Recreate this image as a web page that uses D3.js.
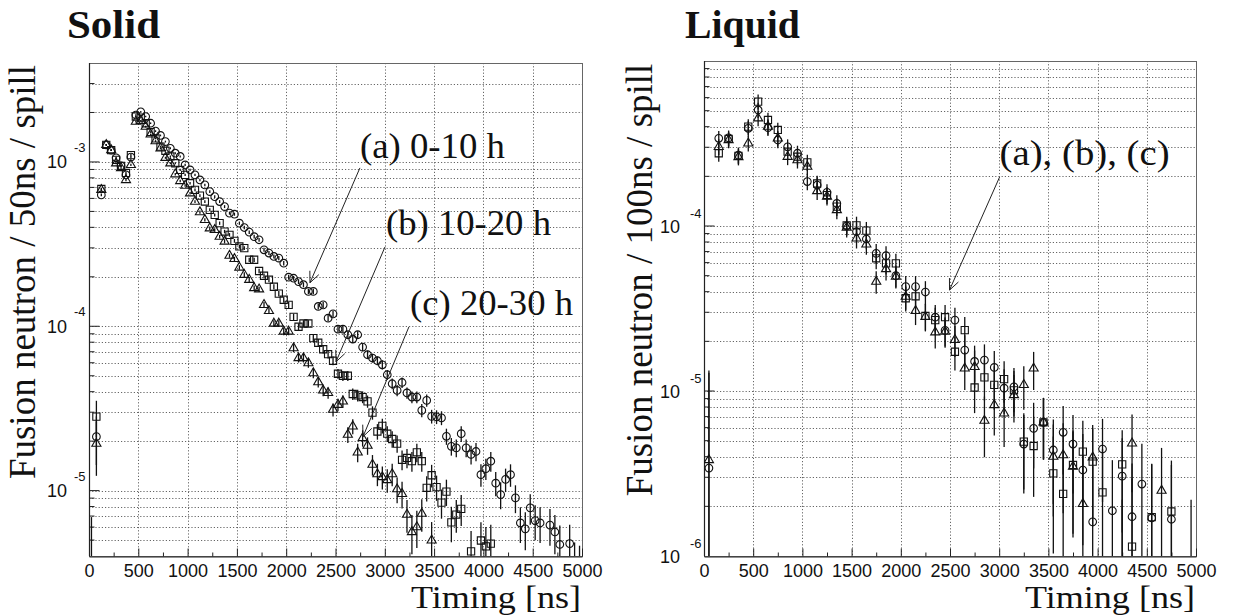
<!DOCTYPE html>
<html>
<head>
<meta charset="utf-8">
<script src="https://cdn.jsdelivr.net/npm/d3@7"></script>
<style>
    body { margin: 0; background: #fff; }
    svg { display: block; }
    .num { font-family: "Liberation Sans", Arial, Helvetica, sans-serif; fill: #111; }
    .serif { font-family: "Liberation Serif", "Times New Roman", serif; fill: #111; }
</style>
</head>
<body>
<svg id="chart" width="1235" height="615"></svg>
<script>
// ---- data: [timing ns, neutrons per spill] ----
// Solid target, 50 ns bins. (a) 0-10 h circles, (b) 10-20 h squares, (c) 20-30 h triangles
const solidCircle = [
    [25, 1.0e-6], [75, 2.13e-5], [125, 6.3e-4], [175, 1.27e-3], [225, 1.18e-3], [275, 1.06e-3], [325, 9.46e-4], [375, 8.34e-4], [425, 1.07e-3], [475, 1.93e-3],
    [525, 2.02e-3], [575, 1.89e-3], [625, 1.72e-3], [675, 1.54e-3], [725, 1.45e-3], [775, 1.33e-3], [825, 1.21e-3], [875, 1.13e-3], [925, 1.08e-3], [975, 9.59e-4],
    [1025, 8.94e-4], [1075, 8.34e-4], [1125, 7.77e-4], [1175, 7.25e-4], [1225, 6.60e-4], [1275, 6.15e-4], [1325, 5.74e-4], [1375, 5.35e-4], [1425, 4.88e-4], [1475, 4.81e-4],
    [1525, 4.24e-4], [1575, 3.99e-4], [1625, 3.74e-4], [1675, 3.51e-4], [1725, 3.36e-4], [1775, 2.92e-4], [1825, 2.79e-4], [1875, 2.66e-4], [1925, 2.60e-4], [1975, 2.42e-4],
    [2025, 1.99e-4], [2075, 1.96e-4], [2125, 1.87e-4], [2175, 1.79e-4], [2225, 1.63e-4], [2275, 1.63e-4], [2325, 1.32e-4], [2375, 1.35e-4], [2425, 1.12e-4], [2475, 1.19e-4],
    [2525, 9.6e-5], [2575, 9.6e-5], [2625, 8.88e-5], [2675, 8.36e-5], [2725, 8.88e-5], [2775, 7.47e-5], [2825, 6.71e-5], [2875, 6.41e-5], [2925, 6.17e-5], [2975, 5.83e-5],
    [3025, 5.07e-5], [3075, 4.47e-5], [3125, 4.07e-5], [3175, 4.55e-5], [3225, 3.93e-5], [3275, 3.71e-5], [3325, 3.71e-5], [3375, 3.08e-5], [3425, 3.54e-5], [3475, 2.83e-5],
    [3525, 2.81e-5], [3575, 2.77e-5], [3625, 2.14e-5], [3675, 1.86e-5], [3725, 1.82e-5], [3775, 2.22e-5], [3825, 1.82e-5], [3875, 1.66e-5], [3925, 1.73e-5], [3975, 1.25e-5],
    [4025, 1.36e-5], [4075, 1.51e-5], [4125, 1.11e-5], [4175, 9.46e-6], [4225, 1.17e-5], [4275, 1.25e-5], [4325, 9.03e-6], [4375, 6.36e-6], [4425, 5.85e-6], [4475, 7.85e-6],
    [4525, 6.57e-6], [4575, 6.36e-6], [4675, 6.17e-6], [4725, 5.6e-6], [4775, 4.7e-6], [4875, 4.76e-6], [4925, 3.5e-6], [4975, 3.3e-6]
];
const solidSquare = [
    [75, 2.82e-5], [125, 6.85e-4], [175, 1.27e-3], [225, 1.18e-3], [275, 1.03e-3], [325, 9.46e-4], [375, 8.57e-4], [425, 1.10e-3], [475, 1.89e-3],
    [525, 1.86e-3], [575, 1.72e-3], [625, 1.52e-3], [675, 1.39e-3], [725, 1.24e-3], [775, 1.17e-3], [825, 1.08e-3], [875, 9.82e-4], [925, 8.94e-4], [975, 8.34e-4],
    [1025, 7.42e-4], [1075, 6.76e-4], [1125, 6.24e-4], [1175, 5.74e-4], [1225, 5.11e-4], [1275, 4.76e-4], [1325, 4.24e-4], [1375, 3.77e-4], [1425, 3.60e-4], [1475, 3.31e-4],
    [1525, 3.06e-4], [1575, 2.99e-4], [1625, 2.54e-4], [1675, 2.54e-4], [1725, 2.17e-4], [1775, 2.03e-4], [1825, 1.92e-4], [1875, 1.74e-4], [1925, 1.58e-4], [1975, 1.45e-4],
    [2025, 1.35e-4], [2075, 1.14e-4], [2125, 9.93e-5], [2175, 1.04e-4], [2225, 1.04e-4], [2275, 8.47e-5], [2325, 7.94e-5], [2375, 7.25e-5], [2425, 6.76e-5], [2475, 6.17e-5],
    [2525, 5.14e-5], [2575, 5.0e-5], [2625, 5.0e-5], [2675, 3.87e-5], [2725, 3.80e-5], [2775, 3.71e-5], [2825, 3.49e-5], [2875, 2.98e-5], [2925, 2.29e-5], [2975, 2.48e-5],
    [3025, 2.22e-5], [3075, 2.06e-5], [3125, 1.93e-5], [3175, 1.54e-5], [3225, 1.58e-5], [3275, 1.51e-5], [3325, 1.71e-5], [3375, 1.51e-5], [3425, 1.04e-5], [3475, 1.24e-5],
    [3525, 1.05e-5], [3575, 8.45e-6], [3625, 9.86e-6], [3675, 6.41e-6], [3725, 7.15e-6], [3775, 7.74e-6], [3875, 4.27e-6], [3975, 4.97e-6], [4025, 4.58e-6], [4075, 4.76e-6]
];
const solidTriangle = [
    [75, 1.93e-5], [125, 6.76e-4], [175, 1.27e-3], [225, 1.18e-3], [275, 9.82e-4], [325, 9.19e-4], [375, 7.77e-4], [425, 9.59e-4], [475, 1.76e-3],
    [525, 1.78e-3], [575, 1.64e-3], [625, 1.47e-3], [675, 1.34e-3], [725, 1.21e-3], [775, 1.06e-3], [825, 9.82e-4], [875, 8.42e-4], [925, 7.66e-4], [975, 7.18e-4],
    [1025, 6.45e-4], [1075, 5.74e-4], [1125, 4.95e-4], [1175, 4.44e-4], [1225, 3.95e-4], [1275, 3.86e-4], [1325, 3.51e-4], [1375, 3.28e-4], [1425, 2.69e-4], [1475, 2.57e-4],
    [1525, 2.28e-4], [1575, 2.06e-4], [1625, 1.92e-4], [1675, 1.71e-4], [1725, 1.68e-4], [1775, 1.35e-4], [1825, 1.24e-4], [1875, 1.04e-4], [1925, 1.04e-4], [1975, 9.3e-5],
    [2025, 9.3e-5], [2075, 7.37e-5], [2125, 6.41e-5], [2175, 6.41e-5], [2225, 5.97e-5], [2275, 5.19e-5], [2325, 4.57e-5], [2375, 4.07e-5], [2425, 3.93e-5], [2475, 3.11e-5],
    [2525, 3.33e-5], [2575, 3.49e-5], [2625, 2.19e-5], [2675, 2.46e-5], [2725, 1.71e-5], [2775, 2.09e-5], [2825, 1.88e-5], [2875, 1.44e-5], [2925, 1.26e-5], [2975, 1.21e-5],
    [3025, 1.16e-5], [3075, 1.26e-5], [3125, 1.02e-5], [3175, 9.56e-6], [3225, 7.15e-6], [3275, 5.6e-6], [3325, 6.0e-6], [3375, 7.25e-6], [3475, 4.98e-6]
];

// Liquid target, 100 ns bins
const liquidCircle = [
    [50, 3.41e-6], [150, 3.40e-4], [250, 3.42e-4], [350, 2.69e-4], [450, 3.91e-4], [550, 5.05e-4], [650, 3.94e-4], [750, 3.32e-4], [850, 3.02e-4], [950, 2.76e-4],
    [1050, 1.86e-4], [1150, 1.77e-4], [1250, 1.60e-4], [1350, 1.37e-4], [1450, 1.0e-4], [1550, 9.24e-5], [1650, 8.34e-5], [1750, 6.83e-5], [1850, 6.61e-5], [1950, 5.0e-5],
    [2050, 4.29e-5], [2150, 4.29e-5], [2250, 3.98e-5], [2350, 2.80e-5], [2450, 2.33e-5], [2550, 2.69e-5], [2650, 1.77e-5], [2750, 1.51e-5], [2850, 1.54e-5], [2950, 1.39e-5],
    [3050, 1.04e-5], [3150, 1.06e-5], [3250, 4.77e-6], [3350, 5.94e-6], [3450, 6.46e-6], [3550, 4.39e-6], [3650, 5.62e-6], [3750, 4.77e-6], [3850, 3.32e-6], [3950, 1.61e-6],
    [4050, 4.45e-6], [4150, 1.88e-6], [4250, 3.05e-6], [4350, 1.73e-6], [4450, 2.73e-6], [4550, 1.70e-6], [4750, 1.67e-6], [4950, 5e-7]
];
const liquidSquare = [
    [150, 2.76e-4], [250, 3.37e-4], [350, 2.66e-4], [450, 4.0e-4], [550, 5.67e-4], [650, 4.39e-4], [750, 3.82e-4], [850, 2.82e-4], [950, 2.63e-4],
    [1050, 2.43e-4], [1150, 1.81e-4], [1250, 1.54e-4], [1350, 1.31e-4], [1450, 1.01e-4], [1550, 1.01e-4], [1650, 9.37e-5], [1750, 6.37e-5], [1850, 5.94e-5], [1950, 5.94e-5],
    [2050, 3.65e-5], [2150, 3.75e-5], [2250, 2.85e-5], [2350, 2.69e-5], [2450, 2.80e-5], [2550, 1.73e-5], [2650, 2.34e-5], [2750, 1.05e-5], [2850, 1.21e-5], [2950, 1.09e-5],
    [3050, 1.18e-5], [3150, 1.01e-5], [3250, 4.93e-6], [3350, 4.64e-6], [3450, 6.46e-6], [3550, 3.17e-6], [3650, 2.38e-6], [3750, 3.56e-6], [3850, 4.29e-6], [3950, 3.73e-6],
    [4050, 2.43e-6], [4250, 3.59e-6], [4350, 1.14e-6], [4550, 1.72e-6], [4750, 1.86e-6]
];
const liquidTriangle = [
    [50, 3.82e-6], [150, 3.02e-4], [250, 3.32e-4], [350, 2.62e-4], [450, 3.17e-4], [550, 4.5e-4], [650, 4.0e-4], [750, 3.40e-4], [850, 2.63e-4], [950, 2.51e-4],
    [1050, 2.29e-4], [1150, 1.63e-4], [1250, 1.51e-4], [1350, 1.25e-4], [1450, 9.77e-5], [1550, 8.42e-5], [1650, 7.74e-5], [1750, 4.60e-5], [1850, 5.49e-5], [1950, 4.93e-5],
    [2050, 3.73e-5], [2150, 3.06e-5], [2250, 2.82e-5], [2350, 2.27e-5], [2450, 2.29e-5], [2550, 2.04e-5], [2650, 1.37e-5], [2750, 1.40e-5], [2850, 6.61e-6], [2950, 8.23e-6],
    [3050, 7.32e-6], [3150, 9.46e-6], [3250, 1.09e-5], [3350, 1.37e-5], [3450, 6.46e-6], [3550, 4.0e-6], [3650, 4.09e-6], [3750, 3.48e-6], [3850, 2.07e-6], [3950, 3.96e-6],
    [4250, 5e-7], [4350, 4.82e-6], [4650, 2.49e-6]
];

// error bars: sigma^2 = (rel*v)^2 + unit*v + bg^2 (statistics + background subtraction)
// a few early bins have much larger bars, read directly
const solidErr = { rel: 0, unit: 2.25e-7, bg: 1.0e-6, fixed: { 25: 5.9e-6, 75: 7e-6 } };
const liquidErr = { rel: 0.1, unit: 6e-7, bg: 1.6e-6, fixed: { 50: 9.5e-6 } };

const xTicks = [0, 500, 1000, 1500, 2000, 2500, 3000, 3500, 4000, 4500, 5000];

const svg = d3.select("#chart");
svg.append("rect").attr("width", 1235).attr("height", 615).attr("fill", "#fff");

function drawPanel(cfg) {
    const g = svg.append("g");
    const x = d3.scaleLinear().domain([0, 5000]).range([cfg.left, cfg.right]);
    const y = d3.scaleLog().domain(cfg.yDomain).range([cfg.bottom, cfg.top]);

    // minor / major values of the log axis (lower edge kept for labels)
    const logVals = [];
    for (let k = -7; k <= -2; k++) {
        for (let m = 1; m <= 9; m++) {
            const v = m * Math.pow(10, k);
            if (v >= cfg.yDomain[0] * 0.9999 && v < cfg.yDomain[1] * 0.9999) logVals.push({ v: v, major: m === 1, k: k });
        }
    }
    const inner = logVals.filter(d => d.v > cfg.yDomain[0] * 1.0001);

    // grid
    const grid = g.append("g")
        .attr("stroke", "#555")
        .attr("stroke-width", 0.9)
        .attr("stroke-dasharray", "1.2,2");
    grid.selectAll(".hg")
        .data(inner)
        .join("line")
        .attr("x1", cfg.left).attr("x2", cfg.right)
        .attr("y1", d => Math.round(y(d.v)) + 0.5).attr("y2", d => Math.round(y(d.v)) + 0.5);
    grid.selectAll(".vg")
        .data(xTicks.slice(1, -1))
        .join("line")
        .attr("x1", d => Math.round(x(d)) + 0.5).attr("x2", d => Math.round(x(d)) + 0.5)
        .attr("y1", cfg.top).attr("y2", cfg.bottom);

    // frame
    g.append("rect")
        .attr("x", cfg.left + 0.5).attr("y", cfg.top + 0.5)
        .attr("width", cfg.right - cfg.left).attr("height", cfg.bottom - cfg.top)
        .attr("fill", "none").attr("stroke", "#666").attr("stroke-width", 1);

    // x axis
    const xAxis = g.append("g")
        .attr("transform", `translate(0,${cfg.bottom + 0.5})`)
        .call(d3.axisBottom(x).tickValues(xTicks).tickSize(-8).tickSizeOuter(0).tickPadding(7.5).tickFormat(d3.format("d")));
    xAxis.select(".domain").attr("stroke", "#222").attr("stroke-width", 1.2);
    xAxis.selectAll(".tick line").attr("stroke", "#222");
    xAxis.selectAll("text").attr("class", "num").attr("font-size", 18).attr("fill", "#111");
    g.append("g")
        .attr("transform", `translate(0,${cfg.bottom + 0.5})`)
        .call(d3.axisBottom(x).tickValues(d3.range(250, 5000, 500)).tickSize(-4).tickSizeOuter(0).tickFormat(""))
        .call(a => a.select(".domain").remove())
        .selectAll("line").attr("stroke", "#222");

    // y axis ticks
    const yAxis = g.append("g").attr("transform", `translate(${cfg.left + 0.5},0)`);
    yAxis.append("line").attr("y1", cfg.top).attr("y2", cfg.bottom).attr("stroke", "#222").attr("stroke-width", 1.2);
    yAxis.selectAll(".yt")
        .data(inner)
        .join("line")
        .attr("x1", 0).attr("x2", d => d.major ? 10 : 5)
        .attr("y1", d => y(d.v)).attr("y2", d => y(d.v))
        .attr("stroke", "#222");

    // decade labels 10^k
    const decades = logVals.filter(d => d.major);
    g.selectAll(".ylab")
        .data(decades)
        .join("text")
        .attr("class", "num")
        .attr("x", cfg.left - cfg.labGap)
        .attr("y", d => y(d.v) + 6.5)
        .attr("text-anchor", "end")
        .attr("font-size", 18)
        .text("10");
    g.selectAll(".yexp")
        .data(decades)
        .join("text")
        .attr("class", "num")
        .attr("x", cfg.left - cfg.expGap)
        .attr("y", d => y(d.v) - cfg.expRise)
        .attr("font-size", 13)
        .text(d => d.k);

    // data
    const clipId = "clip-" + cfg.name;
    svg.append("clipPath").attr("id", clipId)
        .append("rect")
        .attr("x", cfg.left).attr("y", cfg.top)
        .attr("width", cfg.right - cfg.left).attr("height", cfg.bottom - cfg.top);
    const plot = g.append("g").attr("clip-path", `url(#${clipId})`);

    const e = cfg.err;
    const sigma = (t, v) => e.fixed[t] !== undefined
        ? e.fixed[t]
        : Math.sqrt(e.rel * e.rel * v * v + e.unit * v + e.bg * e.bg);

    const symbols = {
        circle: d3.symbol().type(d3.symbolCircle).size(46),
        square: d3.symbol().type(d3.symbolSquare).size(52),
        triangle: d3.symbol().type(d3.symbolTriangle).size(36)
    };

    cfg.series.forEach(s => {
        plot.append("g")
            .selectAll("line")
            .data(s.data)
            .join("line")
            .attr("x1", d => x(d[0])).attr("x2", d => x(d[0]))
            .attr("y1", d => y(d[1] + sigma(d[0], d[1])))
            .attr("y2", d => {
                const lo = d[1] - sigma(d[0], d[1]);
                return lo > 0 ? y(lo) : cfg.bottom + 10;
            })
            .attr("stroke", "#111")
            .attr("stroke-width", 1.3);
    });
    cfg.series.forEach(s => {
        plot.append("g")
            .selectAll("path")
            .data(s.data)
            .join("path")
            .attr("transform", d => `translate(${x(d[0])},${y(d[1])})`)
            .attr("d", symbols[s.shape])
            .attr("fill", "none")
            .attr("stroke", "#111")
            .attr("stroke-width", 1.1);
    });

    // titles and axis captions
    svg.append("text")
        .attr("class", "serif")
        .attr("x", cfg.titleX).attr("y", 38)
        .attr("font-size", 40).attr("font-weight", "bold")
        .attr("textLength", cfg.titleW).attr("lengthAdjust", "spacingAndGlyphs")
        .text(cfg.title);
    svg.append("text")
        .attr("class", "serif")
        .attr("transform", `translate(${cfg.yLabX},${cfg.yLabY}) rotate(-90)`)
        .attr("text-anchor", "middle")
        .attr("font-size", 37)
        .text(cfg.yLabel);
    svg.append("text")
        .attr("class", "serif")
        .attr("x", cfg.right - 1).attr("y", 608)
        .attr("text-anchor", "end")
        .attr("font-size", 31)
        .attr("textLength", 170).attr("lengthAdjust", "spacingAndGlyphs")
        .text("Timing [ns]");

    // annotations
    cfg.notes.forEach(n => {
        svg.append("text")
            .attr("class", "serif")
            .attr("x", x(n.text[0])).attr("y", y(n.text[1]))
            .attr("font-size", 35)
            .attr("textLength", n.width).attr("lengthAdjust", "spacingAndGlyphs")
            .text(n.label);
        const x0 = x(n.from[0]), y0 = y(n.from[1]);
        const x1 = x(n.to[0]), y1 = y(n.to[1]);
        const ang = Math.atan2(y1 - y0, x1 - x0);
        const head = 12, spread = 0.42;
        const a = svg.append("g").attr("stroke", "#222").attr("stroke-width", 1).attr("fill", "none");
        a.append("line").attr("x1", x0).attr("y1", y0).attr("x2", x1).attr("y2", y1);
        a.append("path").attr("d",
            `M${x1 - head * Math.cos(ang - spread)},${y1 - head * Math.sin(ang - spread)}` +
            `L${x1},${y1}` +
            `L${x1 - head * Math.cos(ang + spread)},${y1 - head * Math.sin(ang + spread)}`);
    });
}

drawPanel({
    name: "solid", title: "Solid", titleX: 67, titleW: 93,
    left: 89, right: 582, top: 63, bottom: 556,
    yDomain: [4e-6, 4e-3],
    labGap: 22, expGap: 15, expRise: 10,
    yLabel: "Fusion neutron / 50ns / spill", yLabX: 35, yLabY: 272,
    err: solidErr,
    series: [
        { shape: "circle", data: solidCircle },
        { shape: "square", data: solidSquare },
        { shape: "triangle", data: solidTriangle }
    ],
    notes: [
        { label: "(a) 0-10 h", width: 145, text: [2748, 1.06e-3], from: [2748, 9.2e-4], to: [2241, 1.84e-4] },
        { label: "(b) 10-20 h", width: 165, text: [3012, 3.6e-4], from: [3002, 3.04e-4], to: [2505, 6.08e-5] },
        { label: "(c) 20-30 h", width: 163, text: [3256, 1.17e-4], from: [3245, 9.93e-5], to: [2779, 2.13e-5] }
    ]
});

drawPanel({
    name: "liquid", title: "Liquid", titleX: 685, titleW: 115,
    left: 704, right: 1196, top: 61, bottom: 556,
    yDomain: [1e-6, 1e-3],
    labGap: 24, expGap: 14, expRise: 8,
    yLabel: "Fusion neutron / 100ns / spill", yLabX: 652, yLabY: 280,
    err: liquidErr,
    series: [
        { shape: "circle", data: liquidCircle },
        { shape: "square", data: liquidSquare },
        { shape: "triangle", data: liquidTriangle }
    ],
    notes: [
        { label: "(a), (b), (c)", width: 170, text: [3004, 2.34e-4], from: [3004, 1.98e-4], to: [2495, 4.09e-5] }
    ]
});
</script>
</body>
</html>
